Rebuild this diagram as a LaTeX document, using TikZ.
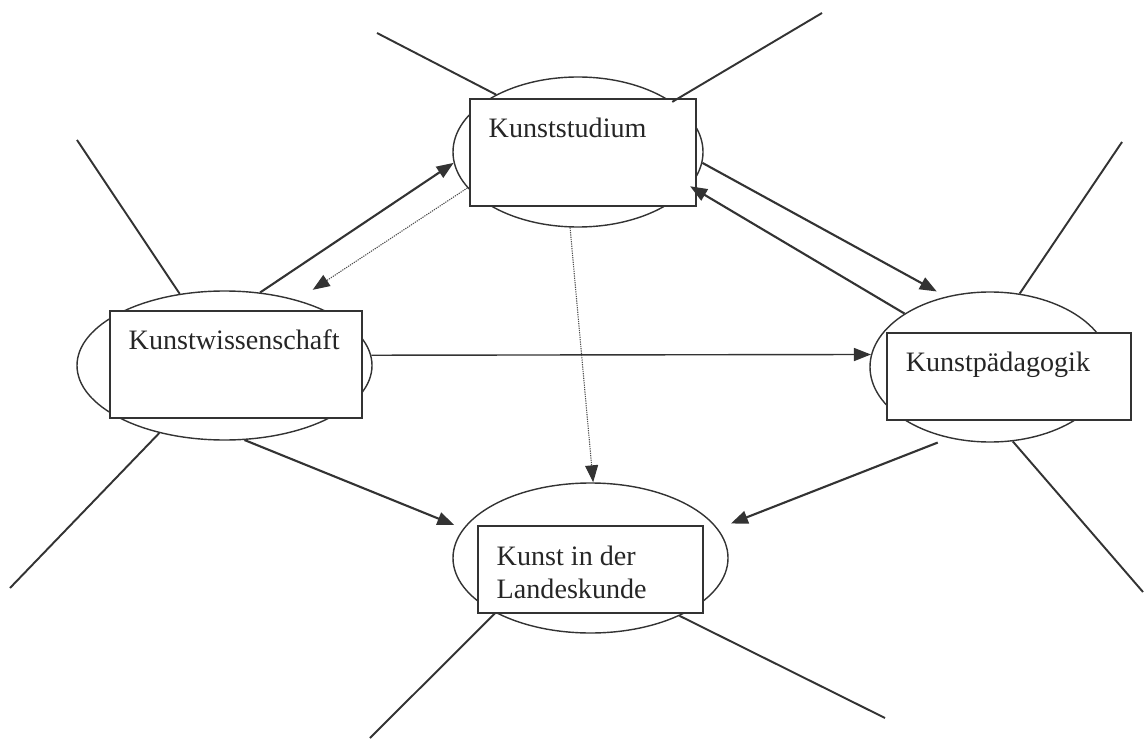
\documentclass[tikz,border=0pt]{standalone}
\usepackage{fontspec}
\setmainfont{Liberation Serif}
\usetikzlibrary{arrows.meta, positioning, shapes.geometric}

\tikzset{
  oval/.style={draw=black!80, line width=0.8pt, ellipse, inner sep=0pt},
  box/.style={draw=black!80, line width=0.7pt, fill=white, inner sep=0pt},
  lbl/.style={inner sep=0pt, align=left, text=black!85, font=\fontsize{16}{19}\selectfont},
  ray/.style={black!80, line width=1.1pt},
  link/.style={black!80, line width=1.2pt, -{Triangle[length=0.34cm,width=0.26cm]}},
  hint/.style={black!70, line width=0.6pt, dash pattern=on 0.7pt off 0.6pt, -{Triangle[length=0.34cm,width=0.26cm,color=black!80]}},
}

\begin{document}
\begin{tikzpicture}
    \useasboundingbox (0,0) rectangle (22.9,14.8);

    % ellipses with boxes on top
    \node[oval, minimum width=5cm, minimum height=3cm] (ks) at (11.56,11.76) {};
    \node[box, minimum width=4.52cm, minimum height=2.14cm] (ks-box) at (11.66,11.75) {};
    \node[lbl, below right=0.38cm and 0.38cm of ks-box.north west] (ks-txt) {Kunststudium};

    \node[oval, minimum width=5.9cm, minimum height=2.98cm] (kw) at (4.49,7.49) {};
    \node[box, minimum width=5.04cm, minimum height=2.14cm] (kw-box) at (4.72,7.51) {};
    \node[lbl, below right=0.38cm and 0.38cm of kw-box.north west] (kw-txt) {Kunstwissenschaft};

    \node[oval, minimum width=4.8cm, minimum height=3cm] (kp) at (19.8,7.46) {};
    \node[box, minimum width=4.88cm, minimum height=1.74cm] (kp-box) at (20.18,7.27) {};
    \node[lbl, below right=0.38cm and 0.38cm of kp-box.north west] (kp-txt) {Kunstpädagogik};

    \node[oval, minimum width=5.5cm, minimum height=3cm] (lk) at (11.81,3.64) {};
    \node[box, minimum width=4.5cm, minimum height=1.74cm] (lk-box) at (11.81,3.41) {};
    \node[lbl, below right=0.4cm and 0.38cm of lk-box.north west] (lk-txt) {Kunst in der\\Landeskunde};

    % free ends of the rays
    \coordinate (ks-ul) at (7.54,14.14);
    \coordinate (ks-ur) at (16.44,14.54);
    \coordinate (kw-ul) at (1.54,12.0);
    \coordinate (kw-ll) at (0.2,3.04);
    \coordinate (kp-ur) at (22.44,11.96);
    \coordinate (kp-lr) at (22.86,2.96);
    \coordinate (lk-ll) at (7.4,0.04);
    \coordinate (lk-lr) at (17.7,0.44);

    \draw[ray] (ks.145) -- (ks-ul);
    \draw[ray] (ks.28) -- (ks-ur);
    \draw[ray] (kw.122) -- (kw-ul);
    \draw[ray] (kw.226) -- (kw-ll);
    \draw[ray] (kp.68) -- (kp-ur);
    \draw[ray] (kp.287) -- (kp-lr);
    \draw[ray] (lk.210) -- (lk-ll);
    \draw[ray] (lk.327) -- (lk-lr);

    % connections
    \draw[link] (kw.64) -- (ks.185);
    \draw[hint, shorten >=0.37cm] (ks.198) -- (kw.42);
    \draw[link, shorten >=0.21cm] (ks.355) -- (kp.122);
    \draw[link] (kp.148) -- (ks.343);
    \draw[link, line width=0.8pt] (kw.4) -- (kp.174);
    \draw[link, shorten >=0.19cm] (kw.285) -- (lk.167);
    \draw[link, shorten <=0.24cm, shorten >=0.28cm] (kp.240) -- (lk.13);
    \draw[hint] (ks.264) -- (lk.88);

\end{tikzpicture}
\end{document}
